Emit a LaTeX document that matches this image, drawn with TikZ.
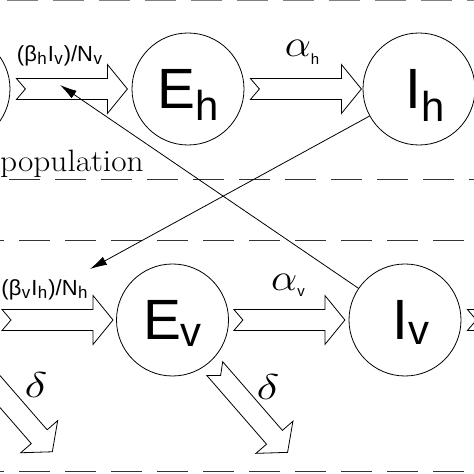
\documentclass[tikz,border=0pt]{standalone}
\usepackage{fix-cm}
\usepackage{fontspec}
\newfontfamily\arialfont{Liberation Sans}
\usetikzlibrary{arrows.meta,calc}

% compartment label: letter, subscript, drop of the subscript
\newcommand\comptext[3]{{\arialfont\fontsize{57}{57}\selectfont #1\smash{\raisebox{-#3bp}{\fontsize{42}{42}\selectfont #2}}}}
\newcommand\lowsub[1]{\kern0.5bp\raisebox{-3bp}{\fontsize{17}{17}\selectfont #1}\kern1bp}
\newcommand\greeksub[3]{{\fontsize{38}{38}\selectfont\scalebox{1.1}[1]{$#1$}}{\arialfont\fontsize{15}{15}\selectfont\raisebox{-#3bp}{#2}}}

\tikzset{
  compartment/.style={draw,circle,line width=0.8bp,minimum size=112bp,inner sep=0pt},
  band/.style={draw=black!80,line width=0.9bp,dash pattern=on 31bp off 15bp},
  rate/.style={anchor=base,inner sep=0pt,font=\arialfont\fontsize{22}{22}\selectfont},
  link/.style={->,line width=0.8bp},
  pics/flow/.style={code={
    \draw[line width=0.8bp,line join=miter,fill=white]
      (0,10.5) -- (91,10.5) -- (91,24.5) -- (111,0) -- (91,-24.5) -- (91,-10.5) -- (0,-10.5) -- (9,0) -- cycle;
  }}
}

\begin{document}
\begin{tikzpicture}[x=1bp,y=1bp,>={Latex[length=17bp,width=9bp]}]
  \useasboundingbox (0,0) rectangle (474,474);
  \clip (0,0) rectangle (474,474);

  % population bands
  \draw[band,draw=black!50,line width=3bp] (-39,474) -- (520,474);
  \draw[band] (-37,294.5) -- (520,294.5);
  \draw[band] (-27,233.5) -- (520,233.5);
  \draw[band] (-27,3) -- (520,3);
  \node[anchor=base west,inner sep=0pt] (pop) at (0,302) {\fontsize{31}{31}\selectfont\scalebox{1.08}[1]{population}};

  % host row
  \node[compartment] (Sh) at (-46,385) {};
  \node[compartment] (Eh) at (188,385) {\comptext{E}{h}{12}};
  \node[compartment] (Ih) at (419,385) {\comptext{\hspace{12bp}I}{h}{13}};

  % vector row
  \node[compartment] (Ev) at (172.5,154) {\comptext{E}{v}{7}};
  \node[compartment] (Iv) at (405,154) {\comptext{\hspace{12bp}I}{v}{5}};

  % flows
  \pic at ($(Sh.east)+(6,0)$) {flow};
  \pic at ($(Eh.east)+(6,0)$) {flow};
  \coordinate (inv) at (2,154);
  \pic at (inv) {flow};
  \pic at ($(Ev.east)+(5,0)$) {flow};
  \pic at ($(Iv.east)+(6,0)$) {flow};
  \coordinate (outS) at (-20.5,106);
  \pic[rotate=-49] at (outS) {flow};
  \pic[rotate=-49] at ($(Ev.-49)+(-49:8)$) {flow};

  % rates
  \node[rate] (lamh) at (60,412) {(β\lowsub{h}I\lowsub{v})/N\lowsub{v}};
  \node[rate] (lamv) at (45,178) {(β\lowsub{v}I\lowsub{h})/N\lowsub{h}};
  \node[anchor=base,inner sep=0pt] (ah) at (302,417) {\greeksub{\alpha}{h}{8}};
  \node[anchor=base,inner sep=0pt] (av) at (288,183) {\greeksub{\alpha}{v}{6}};
  \node[inner sep=0pt] (dv) at (36,89) {\fontsize{36}{36}\selectfont\scalebox{1.35}[1]{$\delta$}};
  \node[inner sep=0pt] (dE) at (268,86.5) {\fontsize{36}{36}\selectfont\scalebox{1.35}[1]{$\delta$}};

  % cross infection
  \coordinate (hitA) at (60,389);
  \coordinate (hitB) at (90,205);
  \draw[link] (Iv) -- (hitA);
  \draw[link] (Ih) -- (hitB);
\end{tikzpicture}
\end{document}
